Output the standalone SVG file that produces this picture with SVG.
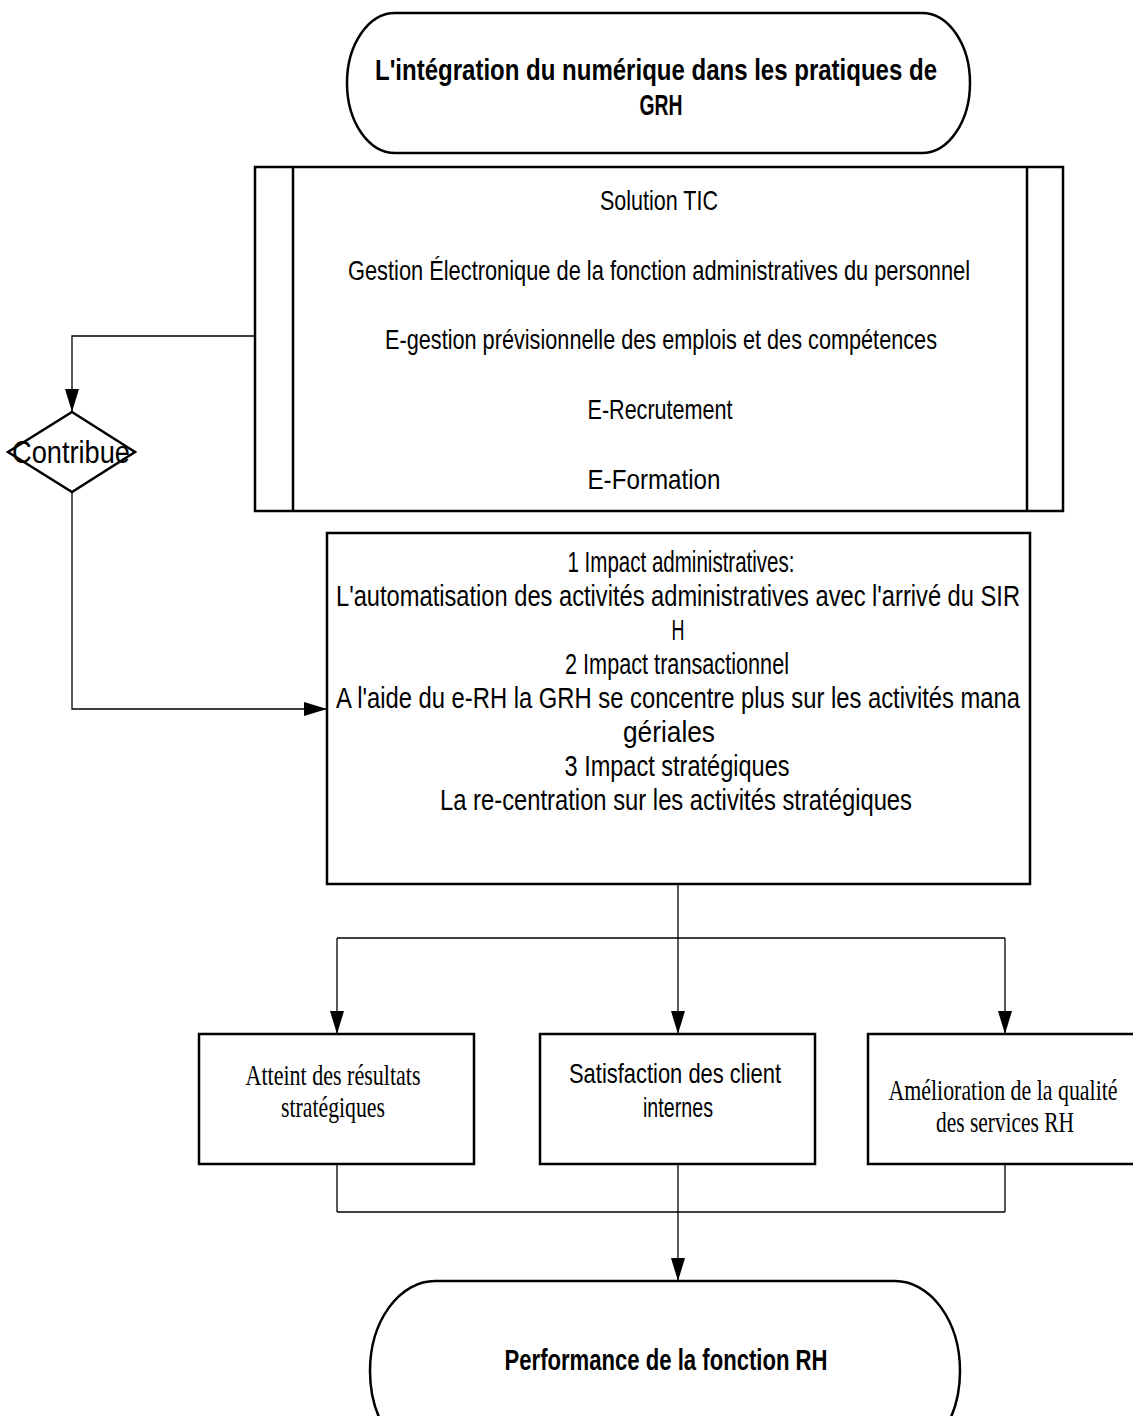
<svg xmlns="http://www.w3.org/2000/svg" width="1133" height="1416" viewBox="0 0 1133 1416">
<style>
.node{fill:#fff;stroke:#000;stroke-width:2.5}
.thin{fill:none;stroke:#000;stroke-width:1.3}
.sans{font-family:"Liberation Sans",Arial,sans-serif;fill:#000}
.serif{font-family:"Liberation Serif","Times New Roman",serif;fill:#000}
.b{font-weight:bold}
</style>
<defs>
<marker id="ah" markerWidth="14" markerHeight="23" refX="7" refY="23" markerUnits="userSpaceOnUse" orient="0">
<path d="M0,0 L14,0 L7,23 Z" fill="#000"/>
</marker>
<marker id="ar" markerWidth="23" markerHeight="14" refX="23" refY="7" markerUnits="userSpaceOnUse" orient="0">
<path d="M0,0 L23,7 L0,14 Z" fill="#000"/>
</marker>
</defs>

<g id="connectors">
<polyline class="thin" points="255,336 72,336 72,412" marker-end="url(#ah)"/>
<polyline class="thin" points="72,492 72,709 327,709" marker-end="url(#ar)"/>
<line class="thin" x1="678" y1="884" x2="678" y2="938"/>
<line class="thin" x1="337" y1="938" x2="1005" y2="938"/>
<line class="thin" x1="337" y1="938" x2="337" y2="1034" marker-end="url(#ah)"/>
<line class="thin" x1="678" y1="938" x2="678" y2="1034" marker-end="url(#ah)"/>
<line class="thin" x1="1005" y1="938" x2="1005" y2="1034" marker-end="url(#ah)"/>
<line class="thin" x1="337" y1="1164" x2="337" y2="1212"/>
<line class="thin" x1="1005" y1="1164" x2="1005" y2="1212"/>
<line class="thin" x1="337" y1="1212" x2="1005" y2="1212"/>
<line class="thin" x1="678" y1="1164" x2="678" y2="1281" marker-end="url(#ah)"/>
</g>

<g id="start">
<rect class="node" x="347" y="13" width="623" height="140" rx="48" ry="70"/>
<text class="sans b" x="656" y="80" font-size="29" text-anchor="middle" textLength="562" lengthAdjust="spacingAndGlyphs">L'intégration du numérique dans les pratiques de</text>
<text class="sans b" x="661" y="115" font-size="29" text-anchor="middle" textLength="43" lengthAdjust="spacingAndGlyphs">GRH</text>
</g>

<g id="solutions">
<rect class="node" x="255" y="167" width="808" height="344"/>
<line class="node" x1="293" y1="167" x2="293" y2="511" stroke-width="1.5"/>
<line class="node" x1="1027" y1="167" x2="1027" y2="511" stroke-width="1.5"/>
<g class="sans" font-size="28" text-anchor="middle">
<text x="659" y="210" textLength="118" lengthAdjust="spacingAndGlyphs">Solution TIC</text>
<text x="659" y="280" textLength="622" lengthAdjust="spacingAndGlyphs">Gestion Électronique de la fonction administratives du personnel</text>
<text x="661" y="349" textLength="552" lengthAdjust="spacingAndGlyphs">E-gestion prévisionnelle des emplois et des compétences</text>
<text x="660" y="419" textLength="145" lengthAdjust="spacingAndGlyphs">E-Recrutement</text>
<text x="654" y="489" textLength="133" lengthAdjust="spacingAndGlyphs">E-Formation</text>
</g>
</g>

<g id="contribue">
<polygon class="node" points="72,412 135,452 72,492 8,452" stroke-width="2"/>
<text class="sans" x="71" y="463" font-size="31" text-anchor="middle" textLength="118" lengthAdjust="spacingAndGlyphs">Contribue</text>
</g>

<g id="impacts">
<rect class="node" x="327" y="533" width="703" height="351"/>
<g class="sans" font-size="29" text-anchor="middle">
<text x="681" y="572" textLength="227" lengthAdjust="spacingAndGlyphs">1 Impact administratives:</text>
<text x="678" y="606" textLength="684" lengthAdjust="spacingAndGlyphs">L'automatisation des activités administratives avec l'arrivé du SIR</text>
<text x="678" y="640" textLength="13" lengthAdjust="spacingAndGlyphs">H</text>
<text x="677" y="674" textLength="224" lengthAdjust="spacingAndGlyphs">2 Impact transactionnel</text>
<text x="678" y="708" textLength="684" lengthAdjust="spacingAndGlyphs">A l'aide du e-RH la GRH se concentre plus sur les activités mana</text>
<text x="669" y="742" textLength="92" lengthAdjust="spacingAndGlyphs">gériales</text>
<text x="677" y="776" textLength="225" lengthAdjust="spacingAndGlyphs">3 Impact stratégiques</text>
<text x="676" y="810" textLength="472" lengthAdjust="spacingAndGlyphs">La re-centration sur les activités stratégiques</text>
</g>
</g>

<g id="resultats">
<rect class="node" x="199" y="1034" width="275" height="130"/>
<g class="serif" font-size="30" text-anchor="middle">
<text x="333" y="1085" textLength="175" lengthAdjust="spacingAndGlyphs">Atteint des résultats</text>
<text x="333" y="1117" textLength="104" lengthAdjust="spacingAndGlyphs">stratégiques</text>
</g>
</g>

<g id="satisfaction">
<rect class="node" x="540" y="1034" width="275" height="130"/>
<g class="sans" font-size="28" text-anchor="middle">
<text x="675" y="1083" textLength="212" lengthAdjust="spacingAndGlyphs">Satisfaction des client</text>
<text x="678" y="1117" textLength="70" lengthAdjust="spacingAndGlyphs">internes</text>
</g>
</g>

<g id="qualite">
<rect class="node" x="868" y="1034" width="275" height="130"/>
<g class="serif" font-size="30" text-anchor="middle">
<text x="1003" y="1100" textLength="229" lengthAdjust="spacingAndGlyphs">Amélioration de la qualité</text>
<text x="1005" y="1132" textLength="138" lengthAdjust="spacingAndGlyphs">des services RH</text>
</g>
</g>

<g id="performance">
<rect class="node" x="370" y="1281" width="590" height="180" rx="65" ry="90"/>
<text class="sans b" x="666" y="1370" font-size="29" text-anchor="middle" textLength="323" lengthAdjust="spacingAndGlyphs">Performance de la fonction RH</text>
</g>
</svg>
